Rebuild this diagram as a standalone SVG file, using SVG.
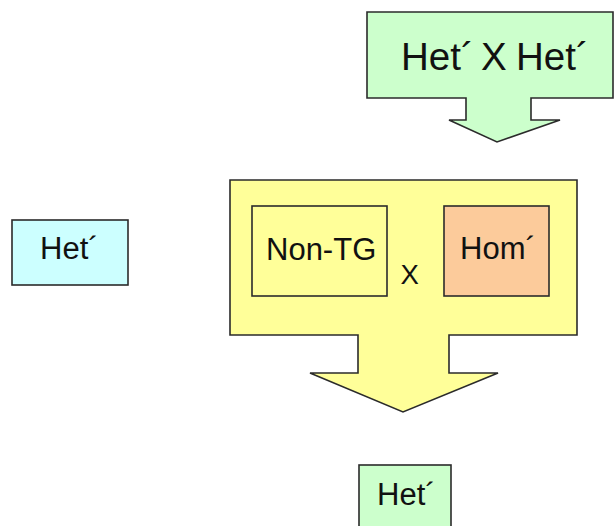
<svg xmlns="http://www.w3.org/2000/svg" width="615" height="526" viewBox="0 0 615 526">
<style>
.shape{stroke:#2b2b2b;stroke-width:1.6;stroke-linejoin:miter}
.green{fill:#ccffcc}
.yellow{fill:#ffff99}
.orange{fill:#fccb9b}
.cyan{fill:#ccffff}
text{font-family:"Liberation Sans",Arial,sans-serif;font-size:31px;fill:#111}
.big{font-size:38.5px}
</style>
<rect width="615" height="526" fill="#ffffff"/>
<g id="top-callout">
<path class="shape green" d="M367,12 H613 V98 H531 V120 H560 L497,142 L449,120 H466 V98 H367 Z"/>
<text class="big"><tspan x="401" y="70">Het´</tspan><tspan x="481" y="70">X</tspan><tspan x="516" y="70">Het´</tspan></text>
</g>
<g id="middle-callout">
<path class="shape yellow" d="M230,180 H577 V335 H449 V373 H498 L403,412 L310,373 H358 V335 H230 Z"/>
</g>
<g id="non-tg">
<rect class="shape yellow" x="252" y="206" width="135" height="90"/>
<text x="266" y="260">Non-TG</text>
</g>
<g id="cross">
<text x="400.5" y="284" style="font-size:27.5px">X</text>
</g>
<g id="hom">
<rect class="shape orange" x="444" y="206" width="105" height="90"/>
<text x="460" y="259">Hom´</text>
</g>
<g id="het-left">
<rect class="shape cyan" x="12" y="220" width="116" height="65"/>
<text x="40" y="259">Het´</text>
</g>
<g id="het-bottom">
<rect class="shape green" x="359" y="465" width="92" height="70"/>
<text x="377" y="505">Het´</text>
</g>
<g id="connectors"></g>
</svg>
